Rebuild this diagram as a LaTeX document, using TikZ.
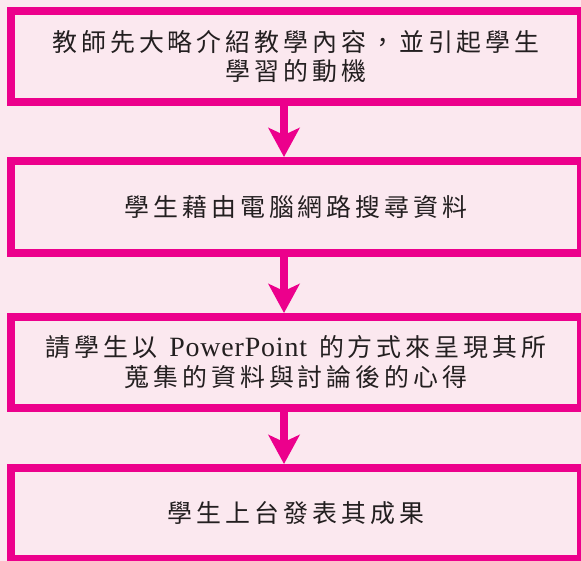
\documentclass[tikz,border=0pt]{standalone}
\usepackage{fontspec}
\setmainfont{Liberation Serif}[LetterSpace=3]
\newfontfamily\cjk{Noto Sans CJK TC}[LetterSpace=16]
\usetikzlibrary{arrows.meta}
\definecolor{bgpink}{HTML}{FBE8EF}
\definecolor{mag}{HTML}{EC008C}
\definecolor{ink}{HTML}{231F20}
\tikzset{
  stepbox/.style={draw=mag, line width=8bp, minimum width=570bp, inner sep=0pt,
    text=ink, align=center, font=\fontsize{25}{30}\selectfont},
  arr/.style={draw=mag, line width=7.5bp, -{Stealth[length=29bp,width=31bp,inset=7bp]}}
}
\begin{document}
\begin{tikzpicture}[x=1bp,y=-1bp]
\useasboundingbox (0,0) rectangle (581,561);
\fill[bgpink] (0,0) rectangle (581,561);
\node[stepbox, minimum height=91.5bp] (b1) at (296,56.5)
  {{\cjk 教師先大略介紹教學內容，並引起學生}\\{\cjk 學習的動機}};
\node[stepbox, minimum height=92bp] (b2) at (296,207)
  {{\cjk 學生藉由電腦網路搜尋資料}};
\node[stepbox, minimum height=91bp] (b3) at (296,362.5)
  {{\cjk 請學生以}\hspace{12bp}{\fontsize{28}{30}\selectfont PowerPoint}\hspace{12bp}{\cjk 的方式來呈現其所}\\{\cjk 蒐集的資料與討論後的心得}};
\node[stepbox, minimum height=91bp] (b4) at (296,513.5)
  {{\cjk 學生上台發表其成果}};
\coordinate (ax) at (284,0);
\draw[arr] (b1.south -| ax) -- (b2.north -| ax);
\draw[arr] (b2.south -| ax) -- (b3.north -| ax);
\draw[arr] (b3.south -| ax) -- (b4.north -| ax);
\end{tikzpicture}
\end{document}
